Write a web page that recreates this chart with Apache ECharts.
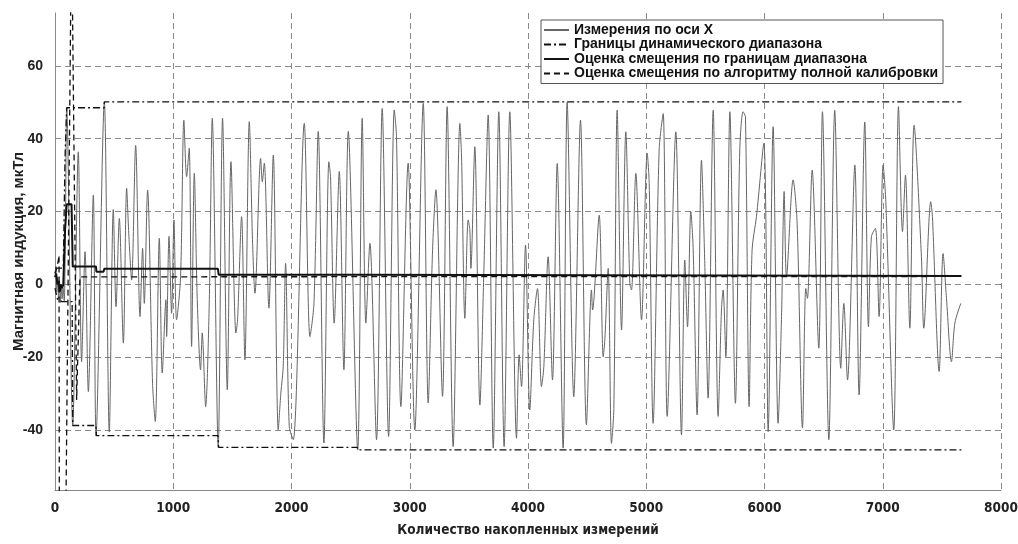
<!DOCTYPE html>
<html>
<head>
<meta charset="utf-8">
<script src="https://cdn.jsdelivr.net/npm/echarts@6/dist/echarts.min.js"></script>
<style>html,body{margin:0;padding:0;background:#fff;}#c{width:1018px;height:544px;}</style>
</head>
<body>
<div id="c"></div>
<script>
// ---- data ----
const xTicks = [0, 1000, 2000, 3000, 4000, 5000, 6000, 7000, 8000];
const yTicks = [-40, -20, 0, 20, 40, 60];

const sigX = [0,8,15,22,30,38,45,52,60,68,78,88,99,150,197,225,254,282,324,347,417,459,493,516,544,578,606,625,648,682,719,741,755,783,825,848,
882,907,938,944,964,986,1006,1028,1062,1090,1113,1135,1155,1178,1203,1231,1245,1274,1305,1330,1380,1417,1457,1488,1530,1544,1578,1606,1643,1671,1691,1739,1753,1770,1809,1846,1888,1910,1930,1950,1981,2015,2108,2156,2190,2226,2274,2316,2330,2361,2404,2443,2480,2560,2598,2629,2663,2719,2767,2821,2869,2888,2925,2987,2995,
3043,3114,3156,3193,3221,3277,3316,3367,3424,3438,3466,3494,3508,3517,3550,3593,3627,3663,3706,3753,3798,3846,3903,3925,3945,3979,4015,4049,4080,4114,4134,4170,4207,4247,4297,4331,4387,4444,4494,4537,4546,4602,4636,4650,4678,4706,4726,4754,4791,4827,4861,4875,4912,4960,5008,5025,5058,5109,5143,5177,5250,5298,5326,5349,5377,5397,5430,5467,5495,5523,5566,5608,5636,5650,5673,5707,5754,5791,5819,5839,5870,5895,5932,5994,6031,6073,6115,6144,6166,6186,6242,6276,6321,6349,6363,6403,6459,6490,6544,6594,6645,6671,6702,6764,6800,6848,6879,6904,6938,6969,7003,7026,7093,7133,7167,7192,7229,7265,7327,7347,7406,7420,7477,7510,7539,7581,7610,7660];
const sigY = [3,5,-2,2,-4,1,-5,0,-4,-1,-4.5,15,48.5,-38.7,36.4,-21.2,9.0,-29.4,24.5,-41.5,50.1,-40.5,20.6,-6.1,18.1,-16.1,26.4,13.1,1.2,38.2,-8.8,9.9,-5.2,25.9,-27.1,-37.6,
12.7,-24.3,-4.2,-14.3,13.2,-7.9,17.7,-9.7,2.2,45.1,29.6,37.4,-17,30.5,-4.2,-23.4,-13.3,-33.5,-4.2,45.6,-44.7,45.6,-28.9,33.7,-13.3,-9.7,18.6,-20.7,44.7,11.3,-2.4,34.6,28.2,33.3,-6.5,35.5,-39.9,-29.8,-22.5,5.8,-39,-42.6,44.2,-14.3,-5.1,42,-43.5,33.7,29.6,-10.6,31,-23.4,42,-45.4,45.6,-10.6,11.3,-42.6,48.3,-41.7,47.9,40.5,-33.5,33.3,28.7,
-39.9,49.7,-32.5,9.5,26,-30.7,48.8,-44.5,44.2,35,-9.3,17.7,15,4.4,37.8,-33.1,4,46.5,-44.9,47.4,-44.5,47.4,-42.2,-19.3,-28,10.8,-34.4,-9.7,-1.1,-28,-22.5,7.6,-26.2,33.2,-44.9,50,-30.8,45.1,-38.5,-1.5,-7,19,-19.8,-15,4.4,-43.6,-34,47.8,-12.5,41.9,0.3,-1.5,30.5,-9.7,36,27.7,-38.1,36.9,46.9,-36.2,41.9,-41.3,6.7,-11.6,20,9.5,-35.8,34.1,5.8,-31.2,47.8,-36.2,-7,-1.5,-19.8,47.4,-32.6,36.9,47.4,46,-33.5,9.5,18.6,38.7,-40.4,43.3,-38.1,-8.8,25.5,2.1,28.7,16.8,-39.4,-1.1,-3.8,31.4,-17.5,47.4,-42.6,47.8,-23,-5.2,-26.2,32.8,-30.3,44.6,-11.6,13.1,15.4,-8.8,32.8,22.7,-39.9,48.8,14.5,30,-12,43.7,7.6,-12,22.7,18.6,-23.9,8.5,-3.8,-21.2,-10.6,-5.2];

const upX = [0, 70, 85, 99, 417, 417, 7665];
const upY = [4.5, 4.5, 35, 48.5, 48.5, 50.1, 50.1];
const loX = [0, 20, 60, 145, 150, 347, 350, 1378, 1384, 2556, 2562, 7665];
const loY = [-1, -4, -4.7, -4.7, -38.7, -38.7, -41.5, -41.5, -44.7, -44.7, -45.4, -45.4];

const offX = [0, 10, 20, 30, 40, 50, 60, 70, 85, 99, 140, 150, 347, 350, 410, 417, 1378, 1384, 2556, 2562, 7665];
const offY = [2, 3, 0, 1, -2, 0, -1, 0, 15, 22, 22, 4.9, 4.9, 3.5, 3.5, 4.3, 4.3, 2.7, 2.7, 2.35, 2.35];

const calX = [0, 20, 34, 40, 90, 140, 183, 211, 7665];
const calY = [3, 5, 8, -150, -70, 100, -31.7, 2.1, 2.2];

const names = ['Измерения по оси X', 'Границы динамического диапазона', 'Оценка смещения по границам диапазона', 'Оценка смещения по алгоритму полной калибровки'];

function pairs(xs, ys) { return xs.map((x, i) => [x, ys[i]]); }

const chart = echarts.init(document.getElementById('c'), null, { renderer: 'canvas' });
const gridLine = { show: true, lineStyle: { color: '#8a8a8a', width: 1, type: [6, 4] } };
chart.setOption({
  animation: false,
  backgroundColor: '#fff',
  grid: { left: 55, right: 17, top: 13, bottom: 54, containLabel: false, outerBoundsMode: 'none' },
  legend: {
    data: names,
    orient: 'vertical',
    left: 541, top: 20,
    backgroundColor: '#fff',
    borderColor: '#555', borderWidth: 1,
    padding: [3, 5, 3, 2],
    itemGap: 0.5,
    itemWidth: 25, itemHeight: 16,
    itemStyle: { opacity: 0 },
    textStyle: { fontFamily: 'Liberation Sans, Arial, sans-serif', fontWeight: 'bold', fontSize: 14, color: '#111' }
  },
  xAxis: {
    type: 'value', min: 0, max: 8000, interval: 1000,
    name: 'Количество накопленных измерений', nameLocation: 'middle', nameGap: 33, nameMoveOverlap: false,
    nameTextStyle: { fontFamily: 'Liberation Sans Narrow, DejaVu Sans Condensed, sans-serif', fontWeight: 'bold', fontSize: 13.5, color: '#222' },
    axisLine: { show: true, onZero: false, lineStyle: { color: '#888', width: 1 } },
    axisTick: { show: false },
    axisLabel: { margin: 11, fontFamily: 'Liberation Sans Narrow, DejaVu Sans Condensed, sans-serif', fontWeight: 'bold', fontSize: 13.5, color: '#222',
      formatter: v => String(v) },
    splitLine: gridLine
  },
  yAxis: {
    type: 'value', min: -56.4, max: 74.5,
    name: 'Магнитная индукция, мкТл', nameLocation: 'middle', nameGap: 29, nameMoveOverlap: false,
    nameTextStyle: { fontFamily: 'Liberation Sans, Arial, sans-serif', fontWeight: 'bold', fontSize: 15, color: '#222' },
    axisLine: { show: true, onZero: false, lineStyle: { color: '#888', width: 1 } },
    axisTick: { show: false, customValues: yTicks },
    axisLabel: { margin: 12, fontFamily: 'Liberation Sans, Arial, sans-serif', fontWeight: 'bold', fontSize: 14, color: '#222', customValues: yTicks },
    splitLine: gridLine
  },
  series: [
    { name: names[0], type: 'line', data: pairs(sigX, sigY), symbol: 'none', smooth: 0.3,
      lineStyle: { color: '#666', width: 1 }, itemStyle: { color: '#666' }, z: 2 },
    { name: names[1], type: 'line', data: pairs(upX, upY), symbol: 'none',
      lineStyle: { color: '#111', width: 1.3, type: [7, 3, 2, 3] }, itemStyle: { color: '#111' }, z: 3 },
    { name: names[1], type: 'line', data: pairs(loX, loY), symbol: 'none',
      lineStyle: { color: '#111', width: 1.3, type: [7, 3, 2, 3] }, itemStyle: { color: '#111' }, z: 3 },
    { name: names[2], type: 'line', data: pairs(offX, offY), symbol: 'none',
      lineStyle: { color: '#111', width: 2 }, itemStyle: { color: '#111' }, z: 5 },
    { name: names[3], type: 'line', data: pairs(calX, calY), symbol: 'none',
      lineStyle: { color: '#111', width: 1.3, type: [6, 4] }, itemStyle: { color: '#111' }, z: 4 }
  ]
});
</script>
</body>
</html>
